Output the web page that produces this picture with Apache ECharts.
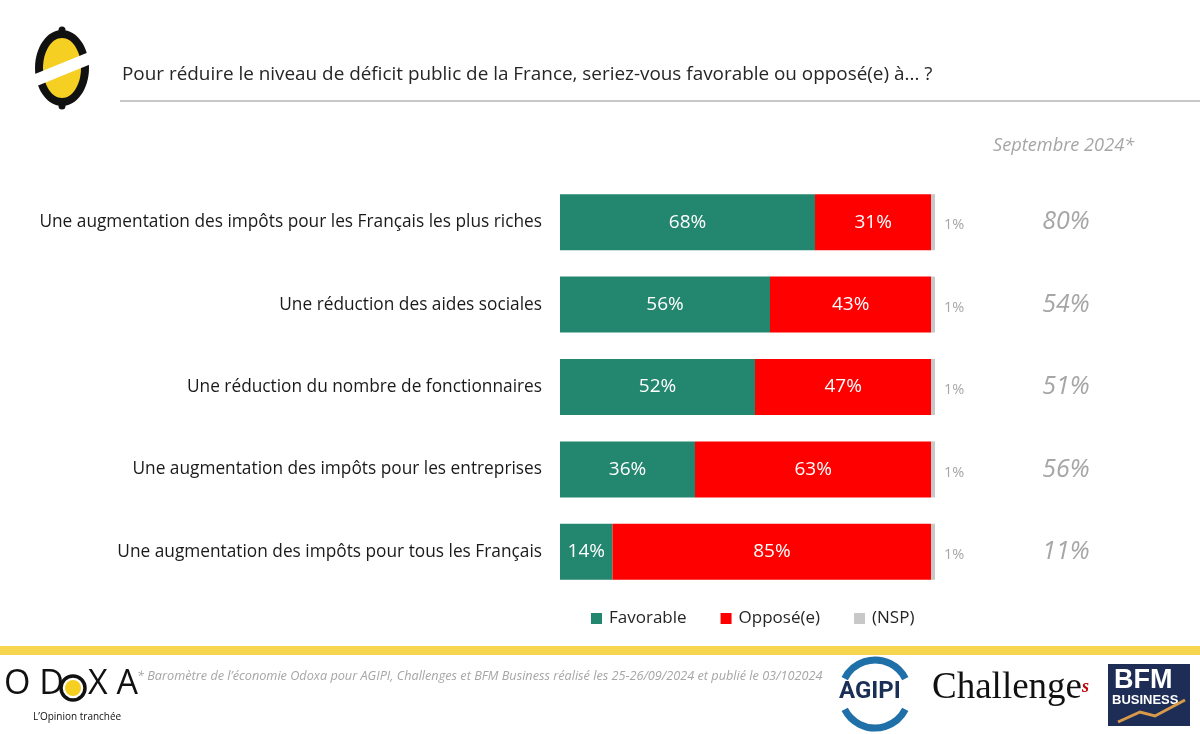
<!DOCTYPE html>
<html>
<head>
<meta charset="utf-8">
<script src="https://cdn.jsdelivr.net/npm/echarts@6/dist/echarts.min.js"></script>
<style>
html,body{margin:0;padding:0;background:#fff;}
#chart{width:1200px;height:734px;}
</style>
</head>
<body>
<div id="chart"></div>
<script>
// ---- Data ----
const categories = [
  "Une augmentation des impôts pour les Français les plus riches",
  "Une réduction des aides sociales",
  "Une réduction du nombre de fonctionnaires",
  "Une augmentation des impôts pour les entreprises",
  "Une augmentation des impôts pour tous les Français"
];
const favorable = [68, 56, 52, 36, 14];
const oppose = [31, 43, 47, 63, 85];
const nsp = [1, 1, 1, 1, 1];
const septembre2024 = [80, 54, 51, 56, 11];
const seriesNames = ["Favorable", "Opposé(e)", "(NSP)"];
const titleText = "Pour réduire le niveau de déficit public de la France, seriez-vous favorable ou opposé(e) à... ?";
const compareHeader = "Septembre 2024*";
const footnote = "* Baromètre de l’économie Odoxa pour AGIPI, Challenges et BFM Business réalisé les 25-26/09/2024 et publié le 03/102024";

const FONT = "'Open Sans', 'Noto Sans', sans-serif";
const GREEN = "#23866f", RED = "#ff0000", GREY = "#c8c8c8";

const chart = echarts.init(document.getElementById('chart'), null, {renderer: 'canvas'});

const option = {
  backgroundColor: '#ffffff',
  animation: false,
  textStyle: {fontFamily: FONT},
  title: [
    {text: titleText, left: 117, top: 60,
     textStyle: {fontFamily: FONT, fontSize: 18.9, fontWeight: 'normal', color: '#262626'}},
    {text: compareHeader, left: 988, top: 132,
     textStyle: {fontFamily: FONT, fontSize: 18.2, fontStyle: 'italic', fontWeight: 'normal', color: '#a6a6a6'}}
  ],
  legend: {
    data: seriesNames,
    bottom: 102,
    left: 586,
    itemWidth: 11, itemHeight: 11, itemGap: 34,
    icon: 'rect',
    textStyle: {fontFamily: FONT, fontSize: 17, color: '#262626', padding: [0,0,0,2]}
  },
  grid: {left: 560, right: 265, top: 181, bottom: 141, containLabel: false},
  xAxis: {type: 'value', min: 0, max: 100, show: false},
  yAxis: [
    {type: 'category', data: categories, inverse: true,
     axisLine: {show: false}, axisTick: {show: false},
     axisLabel: {margin: 18, fontFamily: FONT, fontSize: 17.3, color: '#1a1a1a'}},
    {type: 'category', data: categories, inverse: true, position: 'right',
     axisLine: {show: false}, axisTick: {show: false},
     axisLabel: {margin: 131, align: 'center', fontFamily: FONT, fontSize: 25, fontStyle: 'italic', color: '#a6a6a6',
       formatter: (v, i) => septembre2024[i] + '%'}}
  ],
  series: [
    {name: seriesNames[0], type: 'bar', stack: 't', data: favorable, barWidth: '68%',
     itemStyle: {color: GREEN},
     label: {show: true, position: 'inside', formatter: '{c}%', color: '#fff', fontSize: 19, fontFamily: FONT}},
    {name: seriesNames[1], type: 'bar', stack: 't', data: oppose, barWidth: '68%',
     itemStyle: {color: RED},
     label: {show: true, position: 'inside', formatter: '{c}%', color: '#fff', fontSize: 19, fontFamily: FONT}},
    {name: seriesNames[2], type: 'bar', stack: 't', data: nsp, barWidth: '68%',
     itemStyle: {color: GREY},
     label: {show: true, position: 'right', distance: 9, offset: [0, 3], formatter: '{c}%', color: '#a6a6a6', fontSize: 14.5, fontFamily: FONT}}
  ],
  graphic: [
    // separator under title
    {type: 'rect', shape: {x: 120, y: 100, width: 1080, height: 2}, style: {fill: '#c8c8c8'}},
    // yellow band
    {type: 'rect', shape: {x: 0, y: 646, width: 1200, height: 9}, style: {fill: '#f6d64f'}},
    // top-left logo
    {type: 'circle', shape: {cx: 62, cy: 30, r: 3.5}, style: {fill: '#111'}},
    {type: 'circle', shape: {cx: 62, cy: 106, r: 3.5}, style: {fill: '#111'}},
    {type: 'ellipse', shape: {cx: 62, cy: 68, rx: 27, ry: 38}, style: {fill: '#111'}},
    {type: 'ellipse', shape: {cx: 62, cy: 68, rx: 19, ry: 30}, style: {fill: '#f5cf22'}},
    {type: 'polygon', shape: {points: [[30, 76], [94, 50], [96, 62], [32, 88]]}, style: {fill: '#ffffff'}},
    // footer: ODOXA
    {type: 'text', left: 4, top: 667, style: {text: 'O D', font: '400 34px ' + FONT, fill: '#111'}},
    {type: 'circle', shape: {cx: 73, cy: 688, r: 12}, style: {fill: 'none', stroke: '#111', lineWidth: 3.5}},
    {type: 'circle', shape: {cx: 73, cy: 688, r: 8}, style: {fill: '#f5cf22'}},
    {type: 'text', left: 88, top: 667, style: {text: 'X A', font: '400 34px ' + FONT, fill: '#111'}},
    {type: 'text', left: 33, top: 712, style: {text: 'L’Opinion tranchée', font: '10px ' + FONT, fill: '#111'}},
    // footnote
    {type: 'text', left: 137, top: 670, style: {text: footnote, font: 'italic 12.7px ' + FONT, fill: '#a6a6a6'}},
    // AGIPI
    {type: 'arc', shape: {cx: 875, cy: 694, r: 34, startAngle: Math.PI * 1.15, endAngle: Math.PI * 1.85}, style: {stroke: '#1f6fa8', lineWidth: 7, fill: 'none'}},
    {type: 'arc', shape: {cx: 875, cy: 694, r: 34, startAngle: Math.PI * 0.15, endAngle: Math.PI * 0.85}, style: {stroke: '#1f6fa8', lineWidth: 7, fill: 'none'}},
    {type: 'text', left: 839, top: 680, style: {text: 'AGIPI', font: 'bold 24px Roboto, sans-serif', fill: '#1a2f55'}},
    // Challenges
    {type: 'text', left: 932, top: 670, style: {text: 'Challenge', font: '37px "Liberation Serif", serif', fill: '#111'}},
    {type: 'text', left: 1082, top: 678, style: {text: 's', font: 'italic bold 18px "Liberation Serif", serif', fill: '#c00000'}},
    // BFM Business
    {type: 'rect', shape: {x: 1108, y: 664, width: 82, height: 62}, style: {fill: '#1d2d55'}},
    {type: 'text', left: 1114, top: 667, style: {text: 'BFM', font: 'bold 27px "Liberation Sans", sans-serif', fill: '#fff'}},
    {type: 'text', left: 1112, top: 694, style: {text: 'BUSINESS', font: 'bold 13px "Liberation Sans Narrow", "Liberation Sans", sans-serif', fill: '#fff'}},
    {type: 'polyline', shape: {points: [[1118, 722], [1140, 712], [1155, 716], [1185, 700]]}, style: {stroke: '#d89a4a', lineWidth: 3, fill: 'none'}}
  ]
};
chart.setOption(option);
</script>
</body>
</html>
